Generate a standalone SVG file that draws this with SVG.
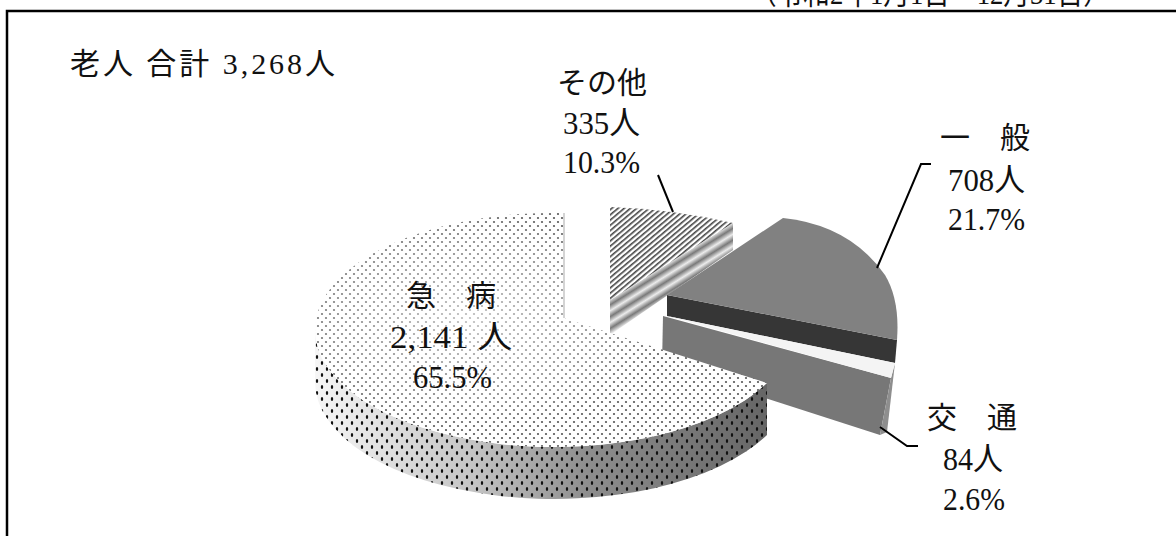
<svg xmlns="http://www.w3.org/2000/svg" width="1176" height="536" viewBox="0 0 1176 536">
<style>
text{font-family:"Liberation Serif","Noto Sans CJK JP",serif;font-size:30px;fill:#111}
text.num{font-size:32px}
.lead{fill:none;stroke:#000;stroke-width:2}
</style>
<defs>
<pattern id="dots" width="8" height="8" patternUnits="userSpaceOnUse">
<rect width="8" height="8" fill="#fff"/>
<circle cx="2" cy="2" r="1.1" fill="#555"/>
<circle cx="6" cy="6" r="1.1" fill="#555"/>
</pattern>
<pattern id="wdots" width="10" height="12" patternUnits="userSpaceOnUse">
<ellipse cx="2" cy="3" rx="1.2" ry="1.9" fill="#111"/>
<ellipse cx="7" cy="9" rx="1.2" ry="1.9" fill="#111"/>
</pattern>
<radialGradient id="fade" gradientUnits="userSpaceOnUse" cx="470" cy="320" r="200" gradientTransform="translate(470 320) scale(1 0.55) translate(-470 -320)">
<stop offset="0" stop-color="#fff" stop-opacity="0.6"/>
<stop offset="0.7" stop-color="#fff" stop-opacity="0.25"/>
<stop offset="1" stop-color="#fff" stop-opacity="0"/>
</radialGradient>
<linearGradient id="wallg" gradientUnits="userSpaceOnUse" x1="315" y1="0" x2="767" y2="0">
<stop offset="0" stop-color="#f6f6f6"/>
<stop offset="0.35" stop-color="#c4c4c4"/>
<stop offset="0.6" stop-color="#8e8e8e"/>
<stop offset="1" stop-color="#666"/>
</linearGradient>
<pattern id="hatch" width="4" height="4" patternUnits="userSpaceOnUse" patternTransform="rotate(-40)">
<rect width="4" height="4" fill="#fff"/>
<rect width="4" height="1.6" fill="#444"/>
</pattern>
<linearGradient id="bands" gradientUnits="userSpaceOnUse" x1="671" y1="261" x2="676.3" y2="269.5" spreadMethod="repeat">
<stop offset="0" stop-color="#ececec"/>
<stop offset="0.5" stop-color="#7a7a7a"/>
<stop offset="1" stop-color="#ececec"/>
</linearGradient>
</defs>
<rect width="1176" height="536" fill="#fff"/>
<rect x="7" y="11" width="1220" height="600" fill="none" stroke="#000" stroke-width="2.5"/>
<text x="750" y="4" textLength="360" lengthAdjust="spacingAndGlyphs">（令和2年1月1日～12月31日）</text>
<text x="70" y="74" textLength="265" lengthAdjust="spacing">老人 合計 3,268人</text>

<g id="sonota">
<path d="M610,300 L733,223 L733,250 L610,335 Z" fill="url(#bands)"/>
<path d="M610,300 L610,207 Q672,209 733,223 Z" fill="url(#hatch)"/>
</g>
<g id="ippan">
<path d="M667,295 L897,340 L895,363 L667,316 Z" fill="#363636"/>
<path d="M667,295 L783,218 Q850,225 885,275 Q900,300 897,340 Z" fill="#818181"/>
</g>
<g id="koutsu">
<path d="M663,316 L891,378 L880,435 L662,365 Z" fill="#777"/>
<path d="M891,378 L895,363 L887,432 L880,435 Z" fill="#8e8e8e"/>
<path d="M667,316 L895,363 L891,378 Z" fill="#f4f4f4"/>
</g>
<g id="kyubyo">
<rect x="562" y="213" width="3" height="105" fill="#d4d4d4"/>
<path d="M315,330 A239,117 0 0 0 767,383 L767,435 A239,117 0 0 1 315,382 Z" fill="url(#wallg)"/>
<path d="M315,330 A239,117 0 0 0 767,383 L767,435 A239,117 0 0 1 315,382 Z" fill="url(#wdots)"/>
<path d="M563,318 L563,213 A239,117 0 1 0 767,383 Z" fill="url(#dots)"/>
<path d="M563,318 L563,213 A239,117 0 1 0 767,383 Z" fill="url(#fade)"/>
</g>

<g id="connectors">
<path class="lead" d="M658,175 L673,212"/>
<path class="lead" d="M877,268 L921,164 L931,164"/>
<path class="lead" d="M880,427 L907,446 L918,446"/>
</g>

<g id="label-sonota">
<text x="557" y="93">その他</text>
<text class="num" x="563" y="134" textLength="77" lengthAdjust="spacingAndGlyphs">335人</text>
<text class="num" x="563" y="173" textLength="77" lengthAdjust="spacingAndGlyphs">10.3%</text>
</g>
<g id="label-ippan">
<text x="940" y="148">一　般</text>
<text class="num" x="948" y="191" textLength="77" lengthAdjust="spacingAndGlyphs">708人</text>
<text class="num" x="948" y="230" textLength="77" lengthAdjust="spacingAndGlyphs">21.7%</text>
</g>
<g id="label-kyubyo">
<text x="406" y="306">急　病</text>
<text class="num" x="390" y="348" textLength="122" lengthAdjust="spacingAndGlyphs">2,141 人</text>
<text class="num" x="413" y="388" textLength="79" lengthAdjust="spacingAndGlyphs">65.5%</text>
</g>
<g id="label-koutsu">
<text x="927" y="428">交　通</text>
<text class="num" x="943" y="470" textLength="60" lengthAdjust="spacingAndGlyphs">84人</text>
<text class="num" x="943" y="510" textLength="62" lengthAdjust="spacingAndGlyphs">2.6%</text>
</g>
</svg>
